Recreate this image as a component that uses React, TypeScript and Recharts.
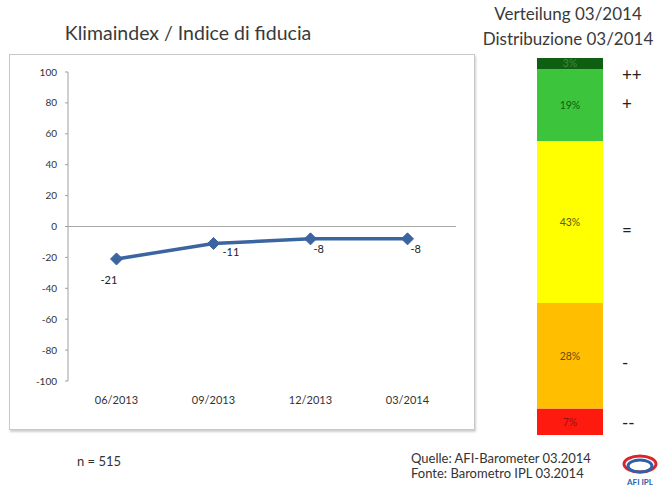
import { LineChart, Line, XAxis, YAxis, ReferenceLine, LabelList, BarChart, Bar } from "recharts";

const quarters = ["06/2013", "09/2013", "12/2013", "03/2014"];
const climateIndex = [-21, -11, -8, -8];
const yTicks = [-100, -80, -60, -40, -20, 0, 20, 40, 60, 80, 100];

// distribution 03/2014, bottom to top
const segKeys = ["mm", "m", "eq", "p", "pp"];
const segValues = [7, 28, 43, 19, 3];
const segSymbols = ["--", "-", "=", "+", "++"];
const segColors = ["#ff1a10", "#ffbf00", "#ffff00", "#3cc43c", "#0f5f12"];
const segTextColors = ["#9a1010", "#6b4a00", "#5a5a00", "#125c12", "#3f8a3f"];

const lineData = quarters.map((q, i) => ({ q, v: climateIndex[i] }));
const barRow: Record<string, any> = { name: "03/2014" };
segKeys.forEach((k, i) => (barRow[k] = segValues[i]));
const barData = [barRow];

const font = "Lato, 'Open Sans', sans-serif";

const Diamond = (props: any) => {
    const { cx, cy } = props;
    if (cx == null || cy == null) return null;
    const r = 6;
    return (
        <path
            d={`M${cx},${cy - r} L${cx + r},${cy} L${cx},${cy + r} L${cx - r},${cy} Z`}
            fill="#3b64a0"
            stroke="#3b64a0"
        />
    );
};

// label offsets per point (dx, dy)
const labelOffsets = [[-16, 25], [9, 13], [3, 14], [3, 14]];

const PointLabel = (props: any) => {
    const { x, y, value, index } = props;
    const [dx, dy] = labelOffsets[index] || [6, 14];
    return (
        <text x={x + dx} y={y + dy} fontSize={11} fill="#222" fontFamily={font}>
            {value}
        </text>
    );
};

const symbolLabel = (sym: string, dy: number) => (props: any) => {
    const { x, y, width, height } = props;
    return (
        <text
            x={x + width + 19}
            y={y + height / 2 + dy}
            fontSize={17}
            fill="#222"
            fontFamily={font}
            dominantBaseline="middle"
        >
            {sym}
        </text>
    );
};

const symbolDy = [3, 9, 10, 1, 13];

const Logo = () => (
    <svg width={42} height={36} style={{ position: "absolute", left: 619, top: 452 }}>
        <ellipse cx={21} cy={12} rx={16} ry={8} fill="none" stroke="#d8262c" strokeWidth={3} />
        <ellipse cx={21} cy={14} rx={12} ry={6} fill="none" stroke="#2f5fa8" strokeWidth={3} />
        <text x={21} y={33} fontSize={8} fontWeight={700} fill="#2f5fa8" textAnchor="middle" fontFamily={font}>
            AFI IPL
        </text>
    </svg>
);

export default function App() {
    return (
        <div style={{ position: "absolute", left: 0, top: 0, width: 667, height: 488, background: "#fff", fontFamily: font, color: "#333" }}>
            <div style={{ position: "absolute", left: 0, width: 376, top: 21, textAlign: "center", fontSize: 19.5, color: "#3a3a3a" }}>
                Klimaindex / Indice di fiducia
            </div>
            <div style={{ position: "absolute", left: 478, width: 180, top: 1, textAlign: "center", fontSize: 17, lineHeight: "25px", color: "#3a3a3a" }}>
                Verteilung 03/2014
                <br />
                Distribuzione 03/2014
            </div>

            <div
                style={{
                    position: "absolute",
                    left: 9,
                    top: 54,
                    width: 464,
                    height: 374,
                    border: "1px solid #c8c8c8",
                    boxShadow: "1px 2px 2px #cfcfcf",
                }}
            />
            <div style={{ position: "absolute", left: 10, top: 55 }}>
                <LineChart width={466} height={377} data={lineData} margin={{ top: 17, right: 20, left: 8, bottom: 21 }}>
                    <XAxis
                        dataKey="q"
                        scale="band"
                        height={30}
                        axisLine={false}
                        tickLine={false}
                        tickMargin={9}
                        tick={{ fontSize: 11, fill: "#333", fontFamily: font }}
                    />
                    <YAxis
                        domain={[-100, 100]}
                        ticks={yTicks}
                        width={50}
                        tickSize={3}
                        tickMargin={8}
                        axisLine={{ stroke: "#a0a0a0" }}
                        tickLine={{ stroke: "#a0a0a0" }}
                        tick={{ fontSize: 10, fill: "#333", fontFamily: font }}
                    />
                    <ReferenceLine y={0} stroke="#a8a8a8" />
                    <Line
                        dataKey="v"
                        stroke="#3b64a0"
                        strokeWidth={3.5}
                        dot={<Diamond />}
                        activeDot={false}
                        isAnimationActive={false}
                    >
                        <LabelList dataKey="v" content={<PointLabel />} />
                    </Line>
                </LineChart>
            </div>

            <div style={{ position: "absolute", left: 537, top: 58 }}>
                <BarChart width={130} height={377} data={barData} margin={{ top: 0, right: 64, left: 0, bottom: 0 }} barCategoryGap={0}>
                    <XAxis dataKey="name" hide />
                    <YAxis domain={[0, 100]} hide />
                    {segKeys.map((k, i) => (
                        <Bar key={k} dataKey={k} stackId="s" fill={segColors[i]} isAnimationActive={false}>
                            <LabelList
                                dataKey={k}
                                position="center"
                                formatter={(v: any) => `${v}%`}
                                style={{ fontSize: 10.5, fill: segTextColors[i], fontFamily: font }}
                            />
                            <LabelList dataKey={k} content={symbolLabel(segSymbols[i], symbolDy[i])} />
                        </Bar>
                    ))}
                </BarChart>
            </div>

            <div style={{ position: "absolute", left: 77, top: 453, fontSize: 13, color: "#333" }}>n = 515</div>
            <div style={{ position: "absolute", left: 411, top: 451, fontSize: 13, lineHeight: "15px", color: "#333" }}>
                Quelle: AFI-Barometer 03.2014
                <br />
                Fonte: Barometro IPL 03.2014
            </div>
            <Logo />
        </div>
    );
}
